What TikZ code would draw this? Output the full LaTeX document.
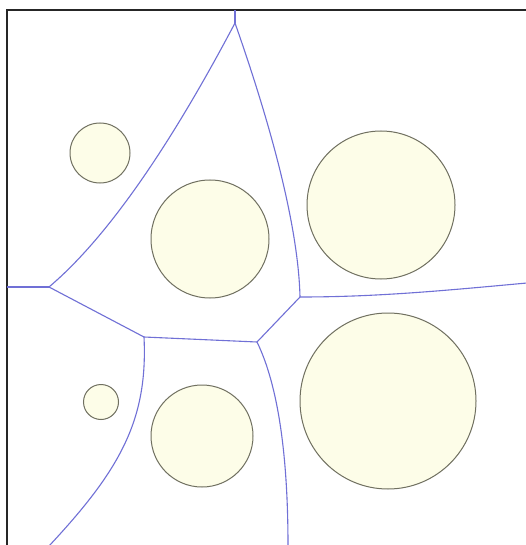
\documentclass[tikz,border=0pt]{standalone}
\begin{document}
\begin{tikzpicture}[x=1pt,y=-1pt,
  edge/.style={draw=vblue,line width=1.1pt,line join=round},
  site/.style={draw=sitegray,fill=siteyellow,line width=1pt},
  frame/.style={draw=black!85,line width=2pt}]
\definecolor{vblue}{RGB}{112,112,214}
\definecolor{sitegray}{RGB}{112,112,96}
\definecolor{siteyellow}{RGB}{253,253,232}
\useasboundingbox (0,0) rectangle (526,545);
\fill[white] (0,0) rectangle (526,545);
% frame
\draw[frame] (7,546) -- (7,10) -- (527,10);
% sites
\draw[site] (100,153) circle (30);
\draw[site] (210,239) circle (59);
\draw[site] (381,205) circle (74);
\draw[site] (101,402) circle (17.5);
\draw[site] (202,436) circle (51);
\draw[site] (388,401) circle (88);
% vertices
\coordinate (vt) at (235,23);
\coordinate (vl) at (49,287);
\coordinate (vr) at (300,297);
\coordinate (vbl) at (144,337);
\coordinate (vbr) at (257,342);
\coordinate (etop) at (235,10);
\coordinate (eleft) at (7,287);
\coordinate (eright) at (527,283);
\coordinate (ebl) at (49,546);
\coordinate (ebr) at (288,546);
% edges
\draw[edge] (vt) -- (etop);
\draw[edge] (vl) -- (eleft);
\draw[edge] (vt) .. controls (188,112) and (120,227) .. (vl);
\draw[edge] (vt) .. controls (262,100) and (298,215) .. (vr);
\draw[edge] (vr) .. controls (380,297) and (450,290) .. (eright);
\draw[edge] (vr) -- (vbr);
\draw[edge] (vl) -- (vbl);
\draw[edge] (vbl) -- (vbr);
\draw[edge] (vbl) .. controls (148,420) and (120,470) .. (ebl);
\draw[edge] (vbr) .. controls (278,385) and (288,455) .. (ebr);
\end{tikzpicture}
\end{document}
